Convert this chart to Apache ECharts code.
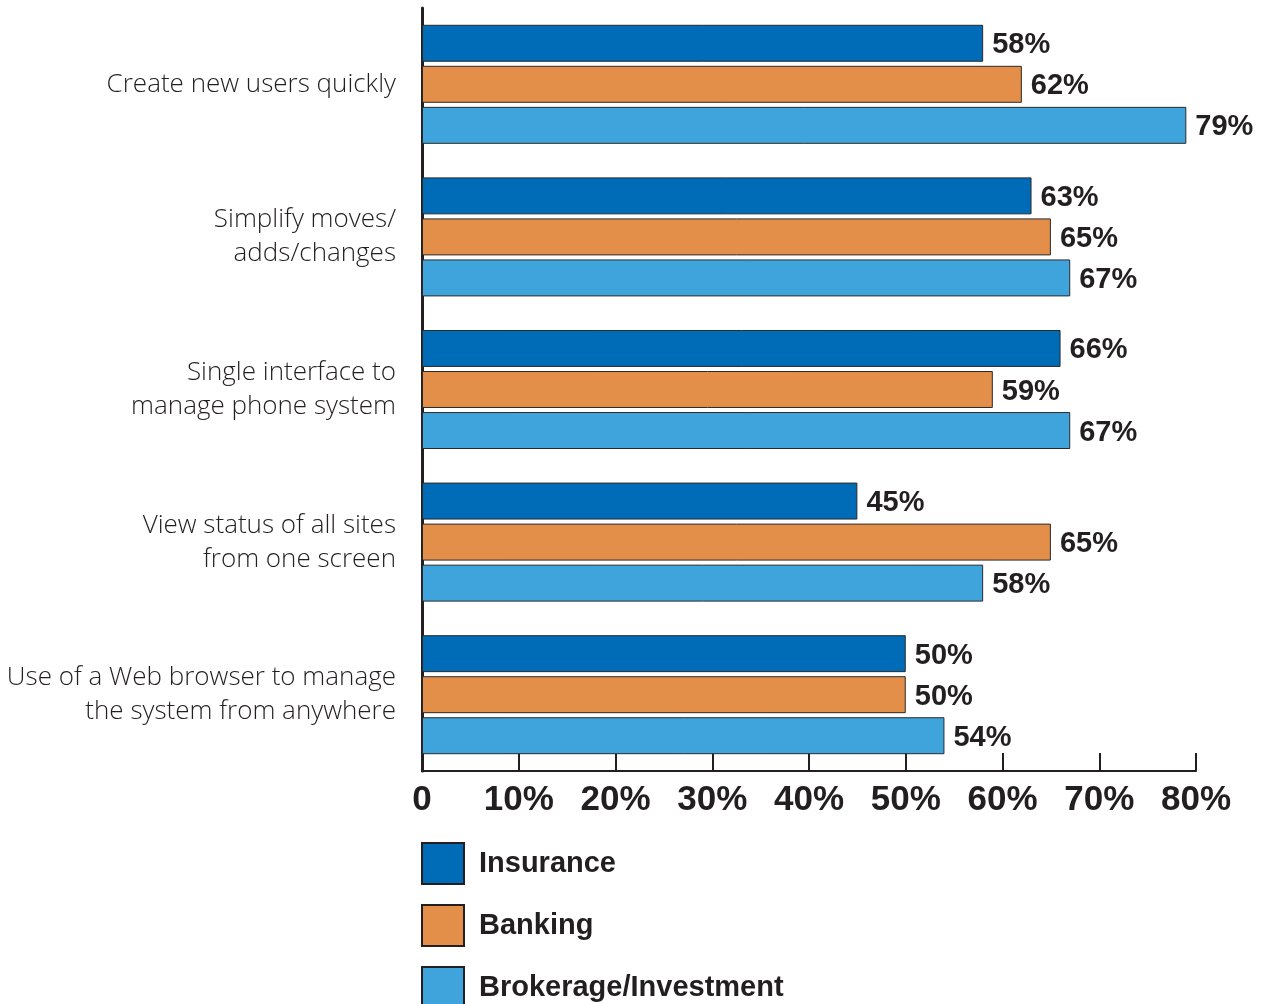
<!DOCTYPE html>
<html>
<head>
<meta charset="utf-8">
<script src="https://cdn.jsdelivr.net/npm/echarts@6/dist/echarts.min.js"></script>
<style>
  html, body { margin: 0; padding: 0; background: #fff; }
  #chart { width: 1272px; height: 1004px; }
</style>
</head>
<body>
<div id="chart"></div>
<script>
// Survey categories (top to bottom) and percentages per industry
var categories = [
  'Create new users quickly',
  'Simplify moves/\nadds/changes',
  'Single interface to\nmanage phone system',
  'View status of all sites\nfrom one screen',
  'Use of a Web browser to manage\nthe system from anywhere'
];
var insurance = [58, 63, 66, 45, 50];
var banking = [62, 65, 59, 65, 50];
var brokerage = [79, 67, 67, 58, 54];
var seriesNames = ['Insurance', 'Banking', 'Brokerage/Investment'];
var seriesColors = ['#006bb6', '#e38f4a', '#40a4dc'];
var tickValues = [0, 10, 20, 30, 40, 50, 60, 70, 80];

var ink = '#231f20';
var font = '"Liberation Sans", Arial, sans-serif';

function makeSeries(name, data, color) {
  return {
    name: name,
    type: 'bar',
    data: data,
    barGap: '11%',
    barCategoryGap: '22%',
    itemStyle: { color: color, borderColor: '#2a2a2a', borderWidth: 1 },
    label: {
      show: true,
      position: 'right',
      distance: 9,
      offset: [0, 2],
      formatter: '{c}%',
      fontFamily: font,
      fontWeight: 'bold',
      fontSize: 29,
      color: ink
    }
  };
}

// One stacked legend entry per series, placed under the value axis
function makeLegend(name, top) {
  return {
    orient: 'vertical',
    left: 421,
    top: top,
    padding: 0,
    itemWidth: 42,
    itemHeight: 41,
    icon: 'rect',
    data: [name],
    itemStyle: { borderColor: '#231f20', borderWidth: 2 },
    textStyle: { fontFamily: font, fontWeight: 'bold', fontSize: 29, color: ink, padding: [0, 0, 0, 10] }
  };
}

var chart = echarts.init(document.getElementById('chart'));
chart.setOption({
  animation: false,
  backgroundColor: '#fff',
  grid: { left: 422, right: 76, top: 8, bottom: 233, containLabel: false },
  legend: [
    makeLegend(seriesNames[0], 842),
    makeLegend(seriesNames[1], 904),
    makeLegend(seriesNames[2], 966)
  ],
  xAxis: {
    type: 'value',
    min: 0,
    max: 80,
    interval: 10,
    splitLine: { show: false },
    axisLine: { show: true, lineStyle: { color: ink, width: 2 } },
    axisTick: { show: true, inside: true, length: 18, lineStyle: { color: ink, width: 2 } },
    axisLabel: {
      margin: 12,
      fontFamily: font,
      fontWeight: 'bold',
      fontSize: 35,
      color: ink,
      formatter: function (v) {
        if (tickValues.indexOf(v) < 0) return '';
        return v === 0 ? '0' : v + '%';
      }
    }
  },
  yAxis: {
    type: 'category',
    inverse: true,
    data: categories,
    axisLine: { show: true, lineStyle: { color: ink, width: 3 } },
    axisTick: { show: false },
    axisLabel: {
      margin: 26,
      align: 'right',
      fontFamily: '"Open Sans", "Liberation Sans", sans-serif',
      fontWeight: 300,
      fontSize: 26,
      lineHeight: 34,
      color: ink
    }
  },
  series: [
    makeSeries(seriesNames[0], insurance, seriesColors[0]),
    makeSeries(seriesNames[1], banking, seriesColors[1]),
    makeSeries(seriesNames[2], brokerage, seriesColors[2])
  ]
});
</script>
</body>
</html>
